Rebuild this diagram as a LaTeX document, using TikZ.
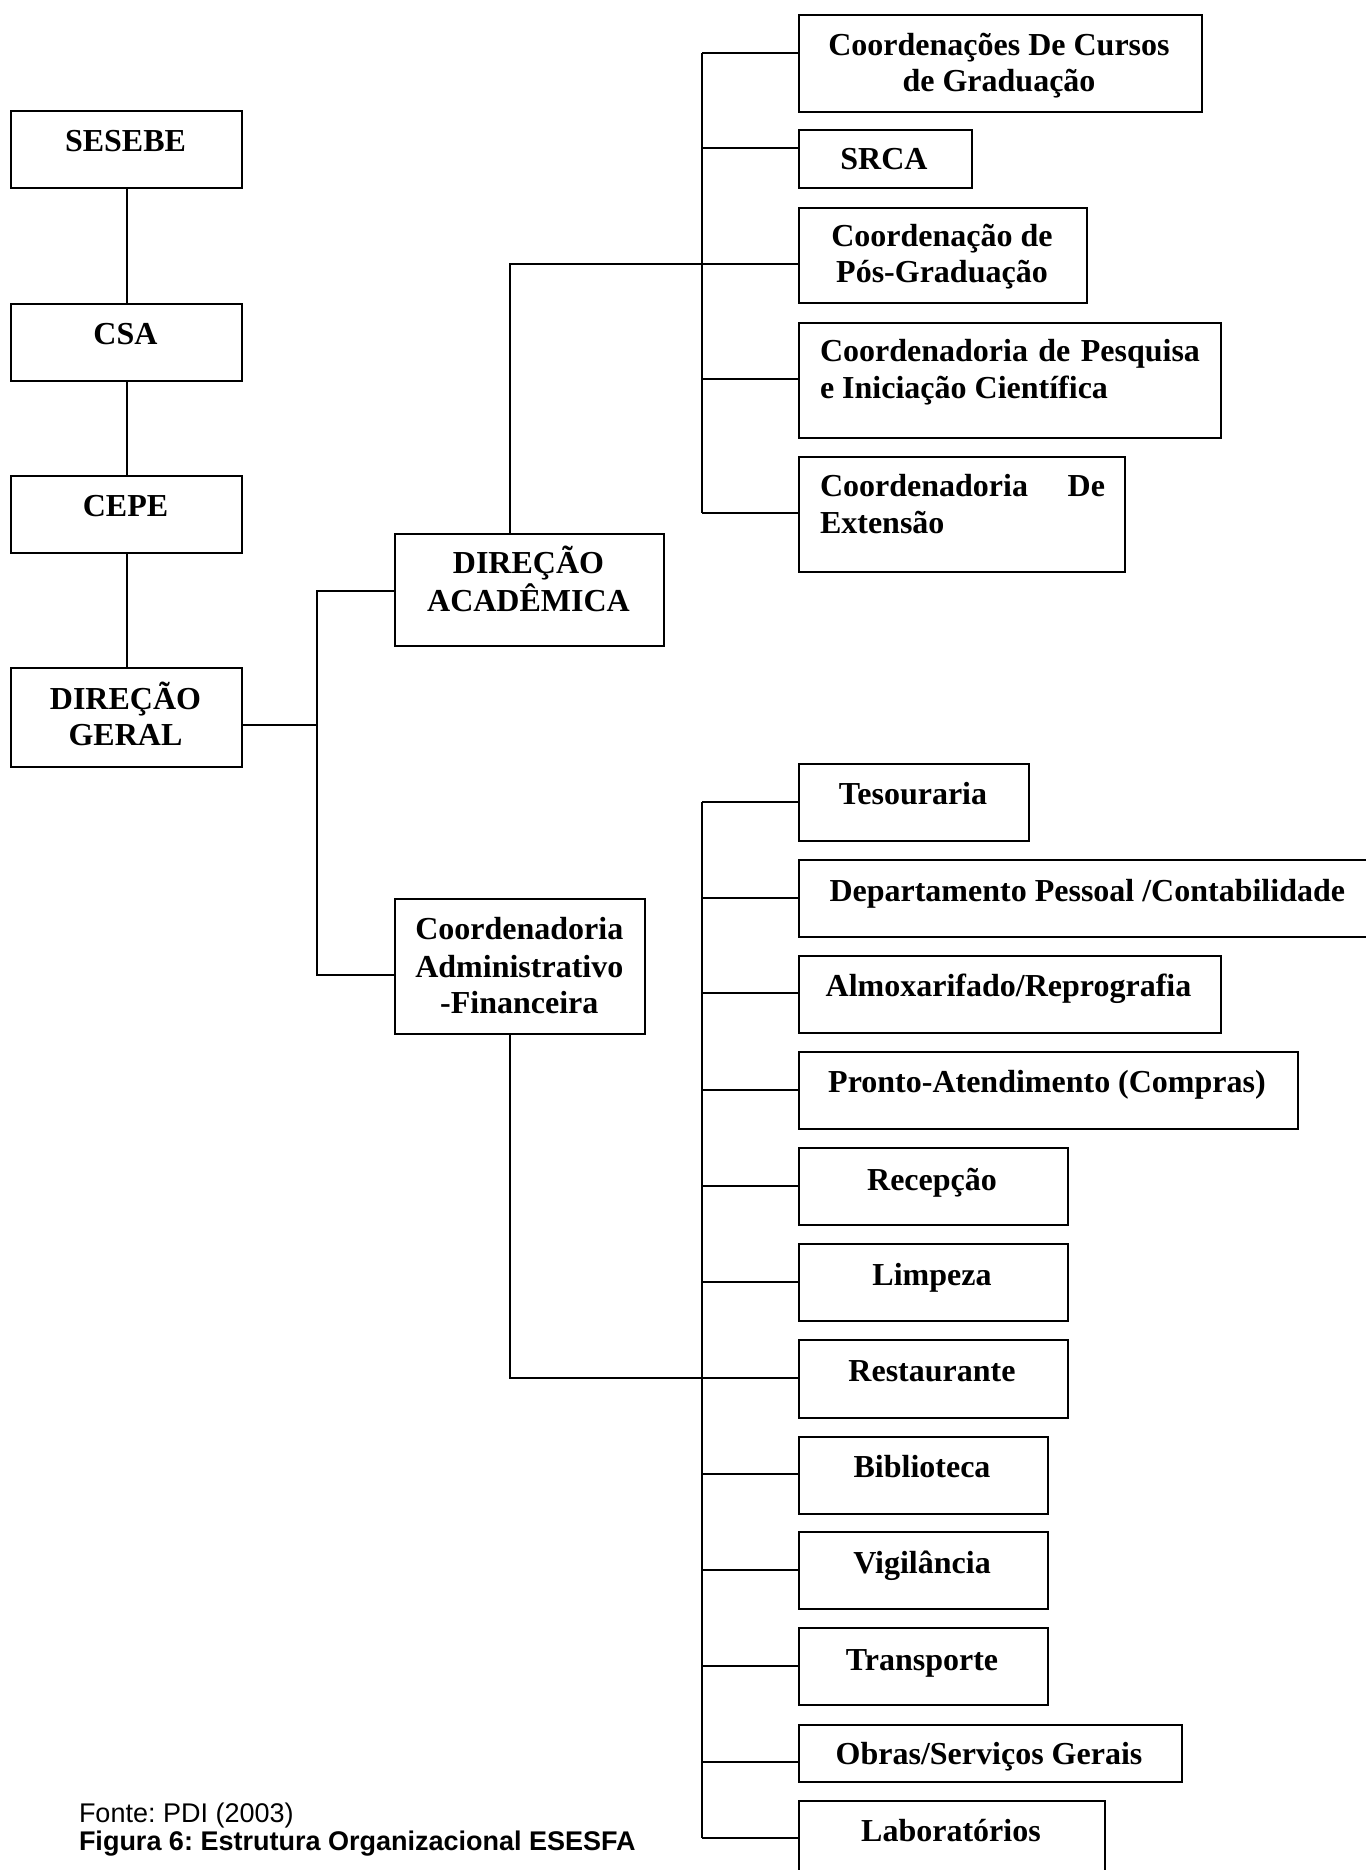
\documentclass[tikz,border=0pt]{standalone}
\usepackage{fontspec}
\setmainfont{Liberation Serif}
\newfontfamily\capfont{Liberation Sans}
\usetikzlibrary{calc}
\frenchspacing
\begin{document}
\begin{tikzpicture}[x=1pt,y=-1pt,line width=2pt,
  box/.style={draw,line width=2pt,rectangle,inner sep=0pt,anchor=north west},
  lbl/.style={inner sep=0pt,anchor=base,font=\fontsize{32}{37}\selectfont\bfseries},
  lblw/.style={lbl,anchor=base west},
  captext/.style={inner sep=0pt,anchor=base west,font=\capfont\fontsize{27}{30}\selectfont}]
\useasboundingbox (0,0) rectangle (1365,1870);
% left column
\node[box,minimum width=231pt,minimum height=77pt] (sesebe) at (10,110) {};
\node[box,minimum width=231pt,minimum height=77pt] (csa) at (10,302.5) {};
\node[box,minimum width=231pt,minimum height=77pt] (cepe) at (10,475) {};
\node[box,minimum width=231pt,minimum height=99pt] (dg) at (10,667) {};
\node[lbl] (tsesebe) at (125.5,152) {SESEBE};
\node[lbl] (tcsa) at (125.5,344) {CSA};
\node[lbl] (tcepe) at (125.5,516) {CEPE};
\node[lbl] (tdg1) at (125.5,709) {DIREÇÃO};
\node[lbl] (tdg2) at (125.5,745) {GERAL};
% middle column
\node[box,minimum width=269pt,minimum height=112pt] (da) at (394,533) {};
\node[lbl] (tda1) at (528.5,573) {DIREÇÃO};
\node[lbl] (tda2) at (528.5,611.5) {ACADÊMICA};
\node[box,minimum width=250pt,minimum height=135pt] (caf) at (394,898) {};
\node[lbl] (tcaf1) at (519.3,939) {Coordenadoria};
\node[lbl] (tcaf2) at (519.3,977) {Administrativo};
\node[lbl] (tcaf3) at (519.3,1013) {-Financeira};
% upper right column
\node[box,minimum width=403.5pt,minimum height=96.6pt] (ccg) at (797.5,14) {};
\node[lbl] (tccg1) at (999,55.5) {Coordenações De Cursos};
\node[lbl] (tccg2) at (999,92) {de Graduação};
\node[box,minimum width=173pt,minimum height=58pt] (srca) at (797.5,129) {};
\node[lbl] (tsrca) at (884,169.5) {SRCA};
\node[box,minimum width=288.5pt,minimum height=95pt] (pos) at (797.5,207) {};
\node[lbl] (tpos1) at (942,247) {Coordenação de};
\node[lbl] (tpos2) at (942,283) {Pós-Graduação};
\node[box,minimum width=422.5pt,minimum height=115.5pt] (pesq) at (797.5,321.5) {};
\node[lblw] (tpesq1) at (819,361.6) {\hbox to 380pt{Coordenadoria\hfill de\hfill Pesquisa}};
\node[lblw] (tpesq2) at (819,398) {e Iniciação Científica};
\node[box,minimum width=326.5pt,minimum height=115pt] (ext) at (797.5,456) {};
\node[lblw] (text1) at (819,496) {\hbox to 285pt{Coordenadoria\hfill De}};
\node[lblw] (text2) at (819,533) {Extensão};
% lower right column
\node[box,minimum width=230.5pt,minimum height=77pt] (tes) at (797.5,763) {};
\node[lbl] (ttes) at (913,804) {Tesouraria};
\node[box,minimum width=602.5pt,minimum height=77pt] (dpc) at (797.5,859) {};
\node[lblw] (tdpc) at (828.5,901) {Departamento Pessoal /Contabilidade};
\node[box,minimum width=422.5pt,minimum height=77pt] (alm) at (797.5,955) {};
\node[lbl] (talm) at (1008.5,996.7) {Almoxarifado/Reprografia};
\node[box,minimum width=499.5pt,minimum height=77pt] (pron) at (797.5,1051) {};
\node[lbl] (tpron) at (1047,1092) {Pronto-Atendimento (Compras)};
\node[box,minimum width=269.5pt,minimum height=77pt] (rec) at (797.5,1147) {};
\node[lbl] (trec) at (932,1190) {Recepção};
\node[box,minimum width=269.5pt,minimum height=77pt] (limp) at (797.5,1243) {};
\node[lbl] (tlimp) at (932,1285.7) {Limpeza};
\node[box,minimum width=269.5pt,minimum height=78pt] (rest) at (797.5,1339) {};
\node[lbl] (trest) at (932,1381) {Restaurante};
\node[box,minimum width=249.5pt,minimum height=77pt] (bib) at (797.5,1435.5) {};
\node[lbl] (tbib) at (922,1477) {Biblioteca};
\node[box,minimum width=249.5pt,minimum height=77pt] (vig) at (797.5,1531) {};
\node[lbl] (tvig) at (922,1573) {Vigilância};
\node[box,minimum width=249.5pt,minimum height=77pt] (trans) at (797.5,1627) {};
\node[lbl] (ttrans) at (922,1670) {Transporte};
\node[box,minimum width=383.5pt,minimum height=57pt] (obras) at (797.5,1724) {};
\node[lbl] (tobras) at (989,1764) {Obras/Serviços Gerais};
\node[box,minimum width=306.5pt,minimum height=95pt] (lab) at (797.5,1800) {};
\node[lbl] (tlab) at (951,1841.6) {Laboratórios};
% caption
\node[captext] (fonte) at (78,1822) {Fonte: PDI (2003)};
\node[captext,font=\capfont\bfseries\fontsize{27}{30}\selectfont] (figura) at (78,1850) {Figura 6: Estrutura Organizacional ESESFA};
% connectors left column
\draw (sesebe) -- (csa);
\draw (csa) -- (cepe);
\draw (cepe) -- (dg);
% bus from DIREÇÃO GERAL
\coordinate (j1) at (317.3,724.5);
\coordinate (b1top) at (317.3,590.7);
\coordinate (b1bot) at (317.3,975);
\draw (dg.east |- j1) -- (j1);
\draw (da.west |- b1top) -- (b1top) -- (b1bot) -- (caf.west |- b1bot);
% upper bus
\coordinate (daup) at (510,264);
\draw (daup |- da.north) -- (daup) -- (pos.west |- daup);
\foreach \n/\y in {ccg/53,srca/148.5,pos/264,pesq/379,ext/513}{
  \coordinate (u\n) at (702,\y);
  \draw (u\n) -- (\n.west |- u\n);
}
\draw (uccg) -- (uext);
% lower bus
\coordinate (cafdn) at (510,1377.5);
\draw (cafdn |- caf.south) -- (cafdn) -- (rest.west |- cafdn);
\foreach \n/\y in {tes/801.7,dpc/897.7,alm/993,pron/1090,rec/1185.5,limp/1282,rest/1377.5,bib/1474,vig/1569.5,trans/1666,obras/1761.6,lab/1838}{
  \coordinate (l\n) at (702,\y);
  \draw (l\n) -- (\n.west |- l\n);
}
\draw (ltes) -- (llab);
\end{tikzpicture}
\end{document}
